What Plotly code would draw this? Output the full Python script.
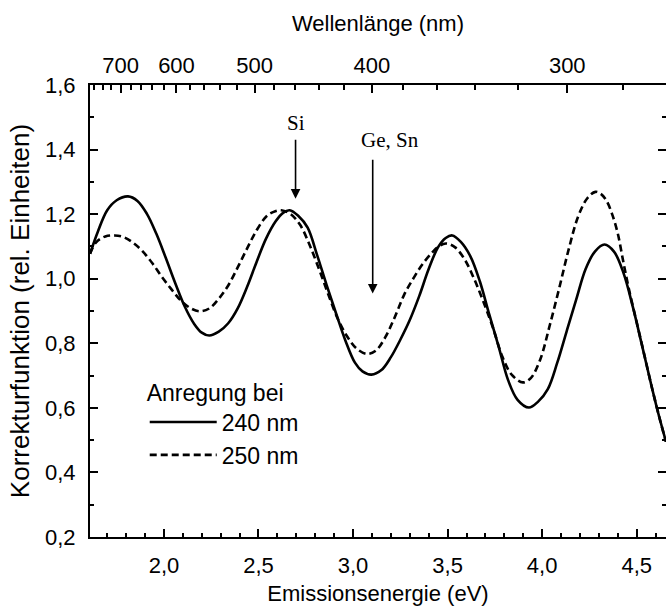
import plotly.graph_objects as go

# ---- data ----
energy_240 = [1.609, 1.65, 1.70, 1.75, 1.81, 1.86, 1.91, 1.96, 2.01, 2.06, 2.11, 2.16, 2.20,
              2.24, 2.29, 2.34, 2.39, 2.44, 2.49, 2.54, 2.59, 2.63, 2.665, 2.71, 2.76, 2.81,
              2.86, 2.91, 2.96, 3.01, 3.05, 3.097, 3.15, 3.20, 3.25, 3.30, 3.35, 3.40, 3.45,
              3.49, 3.525, 3.57, 3.62, 3.67, 3.72, 3.77, 3.82, 3.87, 3.93, 3.98, 4.03, 4.08,
              4.13, 4.18, 4.23, 4.28, 4.33, 4.38, 4.43, 4.48, 4.53, 4.58, 4.62, 4.655]
corr_240 = [1.077, 1.145, 1.212, 1.243, 1.255, 1.241, 1.201, 1.139, 1.064, 0.986, 0.914, 0.860,
            0.833, 0.824, 0.836, 0.862, 0.908, 0.975, 1.052, 1.124, 1.177, 1.204, 1.212, 1.195,
            1.158, 1.073, 0.981, 0.893, 0.808, 0.740, 0.713, 0.703, 0.717, 0.757, 0.811, 0.872,
            0.946, 1.030, 1.098, 1.126, 1.134, 1.114, 1.070, 0.993, 0.890, 0.790, 0.686, 0.625,
            0.601, 0.620, 0.658, 0.740, 0.838, 0.935, 1.030, 1.085, 1.106, 1.084, 1.018, 0.912,
            0.789, 0.664, 0.570, 0.495]

energy_250 = [1.609, 1.64, 1.69, 1.74, 1.79, 1.84, 1.89, 1.94, 1.99, 2.04, 2.09, 2.14, 2.19,
              2.24, 2.29, 2.34, 2.39, 2.44, 2.49, 2.54, 2.58, 2.62, 2.67, 2.72, 2.77, 2.82,
              2.87, 2.92, 2.97, 3.02, 3.075, 3.12, 3.17, 3.22, 3.27, 3.32, 3.37, 3.42, 3.46,
              3.493, 3.54, 3.59, 3.64, 3.69, 3.74, 3.79, 3.84, 3.898, 3.94, 3.99, 4.04, 4.09,
              4.14, 4.19, 4.24, 4.282, 4.31, 4.34, 4.37, 4.40, 4.43, 4.46, 4.50, 4.54, 4.58,
              4.62, 4.655]
corr_250 = [1.077, 1.112, 1.131, 1.134, 1.128, 1.110, 1.083, 1.047, 1.005, 0.967, 0.932, 0.909,
            0.899, 0.908, 0.938, 0.979, 1.035, 1.094, 1.150, 1.192, 1.207, 1.212, 1.200, 1.167,
            1.105, 1.030, 0.950, 0.875, 0.820, 0.783, 0.767, 0.777, 0.818, 0.880, 0.950, 1.002,
            1.047, 1.082, 1.103, 1.109, 1.097, 1.060, 1.000, 0.928, 0.848, 0.758, 0.702, 0.679,
            0.692, 0.750, 0.855, 0.970, 1.090, 1.192, 1.250, 1.269, 1.263, 1.242, 1.200, 1.140,
            1.050, 0.965, 0.865, 0.765, 0.664, 0.570, 0.495]

series_names = ["240 nm", "250 nm"]

# wavelength axis (top)
wl_major = [700, 600, 500, 400, 300]
wl_minor = [760, 740, 720, 680, 660, 640, 620, 580, 560, 540, 520, 480, 460, 440, 420,
            380, 360, 340, 320, 280]
HC = 1239.84  # eV*nm

# element markers
marker_labels = ["Si", "Ge, Sn"]
marker_energy = [2.696, 3.104]
marker_tip = [1.248, 0.954]
marker_tail = [1.435, 1.373]
label_x = [2.696, 3.195]
label_y = [1.482, 1.429]

x_range = [1.609, 4.655]
y_range = [0.2, 1.6]

SANS = "Liberation Sans, Arial, Helvetica, sans-serif"
SERIF = "Liberation Serif, Times New Roman, serif"

fig = go.Figure()
fig.add_trace(go.Scatter(x=energy_240, y=corr_240, mode="lines", name=series_names[0],
                         line=dict(color="black", width=2.6, shape="spline", smoothing=1.0)))
fig.add_trace(go.Scatter(x=energy_250, y=corr_250, mode="lines", name=series_names[1],
                         line=dict(color="black", width=2.6, dash="7px,4px",
                                   shape="spline", smoothing=1.0)))

# invisible carriers so the secondary axes (top wavelength scale, right ticks) are drawn
for xa, ya in [("x2", "y"), ("x3", "y"), ("x", "y2")]:
    fig.add_trace(go.Scatter(x=energy_240, y=corr_240, xaxis=xa, yaxis=ya, mode="lines",
                             line=dict(color="rgba(0,0,0,0)", width=0), opacity=0,
                             showlegend=False, hoverinfo="skip"))

annotations = []
for lab, ex, tip, tail, lx, ly in zip(marker_labels, marker_energy, marker_tip, marker_tail,
                                       label_x, label_y):
    annotations.append(dict(x=ex, y=tip, ax=ex, ay=tail, xref="x", yref="y", axref="x",
                            ayref="y", text="", showarrow=True, arrowhead=2, arrowsize=1.2,
                            arrowwidth=1.6, arrowcolor="black"))
    annotations.append(dict(x=lx, y=ly, xref="x", yref="y", text=lab, showarrow=False,
                            font=dict(family=SERIF, size=21, color="black")))

axis_common = dict(showgrid=False, zeroline=False, tickcolor="black", tickwidth=1.5,
                   linecolor="black", linewidth=2)

fig.update_layout(
    width=666, height=610,
    margin=dict(l=90, r=0, t=85, b=73),
    plot_bgcolor="white", paper_bgcolor="white",
    separators=",.",
    font=dict(family=SANS, size=22, color="black"),
    showlegend=True,
    legend=dict(title=dict(text="Anregung bei", font=dict(size=23)),
                font=dict(size=23), x=0.095, y=0.368, xanchor="left", yanchor="top",
                bgcolor="rgba(0,0,0,0)", borderwidth=0, itemwidth=67, tracegroupgap=0),
    annotations=annotations,
    xaxis=dict(range=x_range, showline=True, ticks="inside", ticklen=8, dtick=0.5, tick0=2.0,
               tickformat=".1f", ticklabelstandoff=8,
               minor=dict(ticks="inside", ticklen=4, dtick=0.1, tick0=2.0, tickcolor="black",
                          tickwidth=1.5, showgrid=False),
               title=dict(text="Emissionsenergie (eV)", font=dict(size=22), standoff=8),
               **axis_common),
    yaxis=dict(range=y_range, showline=True, ticks="inside", ticklen=8, dtick=0.2, tick0=0.2,
               tickformat=".1f", ticklabelstandoff=8,
               minor=dict(ticks="inside", ticklen=4, dtick=0.1, tick0=0.2, tickcolor="black",
                          tickwidth=1.5, showgrid=False),
               title=dict(text="Korrekturfunktion (rel. Einheiten)", font=dict(size=26),
                          standoff=8),
               **axis_common),
    xaxis2=dict(overlaying="x", side="top", anchor="y", range=x_range, showline=True,
                tickmode="array", tickvals=[HC / w for w in wl_major],
                ticktext=[str(w) for w in wl_major], ticks="inside", ticklen=8,
                ticklabelstandoff=1,
                title=dict(text="Wellenlänge (nm)", font=dict(size=22), standoff=16),
                **axis_common),
    xaxis3=dict(overlaying="x", side="top", anchor="y", range=x_range, showline=False,
                tickmode="array", tickvals=[HC / w for w in wl_minor], ticks="inside",
                ticklen=5, showticklabels=False, **axis_common),
    yaxis2=dict(overlaying="y", side="right", anchor="x", range=y_range, showline=False,
                ticks="inside", ticklen=8, dtick=0.2, tick0=0.2, showticklabels=False,
                minor=dict(ticks="inside", ticklen=4, dtick=0.1, tick0=0.2, tickcolor="black",
                           tickwidth=1.5, showgrid=False),
                **axis_common),
)

fig.write_html("out.html")
